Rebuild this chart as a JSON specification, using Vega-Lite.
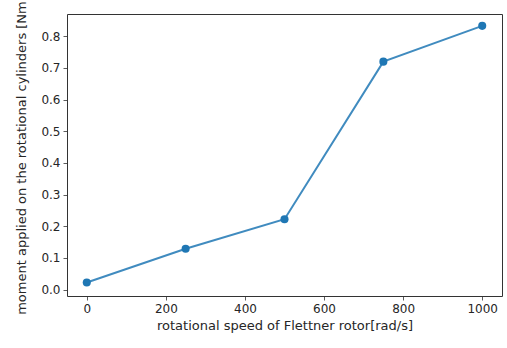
{
  "$schema": "https://vega.github.io/schema/vega-lite/v6.json",
  "width": 435,
  "height": 282,
  "autosize": {"type": "none"},
  "padding": {"left": 67, "top": 14, "right": 5, "bottom": 52},
  "background": "white",
  "config": {
    "font": "DejaVu Sans",
    "view": {"stroke": "#333333", "strokeWidth": 1},
    "axis": {
      "grid": false,
      "domain": false,
      "tickColor": "#333333",
      "tickSize": 4,
      "tickWidth": 0.8,
      "labelFont": "DejaVu Sans",
      "labelFontSize": 12,
      "labelColor": "#262626",
      "labelPadding": 3,
      "titleFont": "DejaVu Sans",
      "titleFontSize": 13,
      "titleFontWeight": "normal",
      "titleColor": "#262626"
    }
  },
  "data": {
    "values": [
      {"speed": 0, "moment": 0.022},
      {"speed": 250, "moment": 0.129},
      {"speed": 500, "moment": 0.222},
      {"speed": 750, "moment": 0.72},
      {"speed": 1000, "moment": 0.833}
    ]
  },
  "encoding": {
    "x": {
      "field": "speed",
      "type": "quantitative",
      "scale": {"domain": [-50, 1050], "nice": false, "zero": false},
      "axis": {"values": [0, 200, 400, 600, 800, 1000], "format": "d", "title": "rotational speed of Flettner rotor[rad/s]", "titlePadding": 5, "labelFlush": false}
    },
    "y": {
      "field": "moment",
      "type": "quantitative",
      "scale": {"domain": [-0.0205, 0.8705], "nice": false, "zero": false},
      "axis": {"values": [0, 0.1, 0.2, 0.3, 0.4, 0.5, 0.6, 0.7, 0.8], "format": ".1f", "title": "moment applied on the rotational cylinders [Nm]", "titlePadding": 12, "labelFlush": false}
    }
  },
  "layer": [
    {"mark": {"type": "line", "color": "#1f77b4", "strokeWidth": 2, "opacity": 0.85}},
    {"mark": {"type": "point", "filled": true, "color": "#1f77b4", "opacity": 1, "size": 65}}
  ]
}
